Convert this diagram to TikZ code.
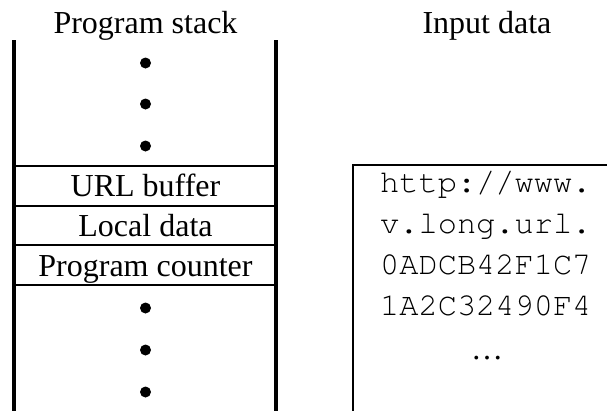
\documentclass[tikz,border=0pt]{standalone}
\usepackage[T1]{fontenc}
\usepackage{fontspec}
\setmainfont{Liberation Serif}
\newcommand{\courierfont}{\fontencoding{T1}\fontfamily{pcr}\fontseries{m}\fontshape{n}\selectfont}
\begin{document}
\begin{tikzpicture}[x=1pt,y=-1pt,
  lbl/.style={font=\fontsize{32}{38}\selectfont, anchor=base, inner sep=0pt},
  mono/.style={font=\courierfont\fontsize{32}{38}\selectfont, anchor=base west, inner sep=0pt},
  wall/.style={line width=4pt},
  sep/.style={line width=2pt},
  frame/.style={line width=2.6pt},
  dot/.style={circle, fill=black, inner sep=0pt, minimum size=11pt}]
\useasboundingbox (0,0) rectangle (607,410);
% titles
\node[lbl] (t1) at (145.5,33) {Program stack};
\node[lbl] (t2) at (487,33) {Input data};
% stack walls
\draw[wall] (14,40) -- (14,412);
\draw[wall] (276,40) -- (276,412);
% separators
\foreach \y in {165.7,205.7,245,285}
  \draw[sep] (14,\y) -- (276,\y);
% dots
\foreach \y [count=\i] in {63,104,146}
  \node[dot] (ua\i) at (145.5,\y) {};
\foreach \y [count=\i] in {308,350,392}
  \node[dot] (lo\i) at (145.5,\y) {};
% stack labels
\node[lbl] (url) at (145.5,196) {URL buffer};
\node[lbl] (loc) at (145.5,236.5) {Local data};
\node[lbl] (pc) at (145.5,276.5) {Program counter};
% input data box
\draw[frame] (353,412) -- (353,165) -- (610,165);
\node[mono] (d1) at (380,192) {http://www.};
\node[mono] (d2) at (380,233) {v.long.url.};
\node[mono] (d3) at (380,274) {0ADCB42F1C7};
\node[mono] (d4) at (380,315) {1A2C32490F4};
\node[lbl] (d5) at (487,359) {…};
\end{tikzpicture}
\end{document}
